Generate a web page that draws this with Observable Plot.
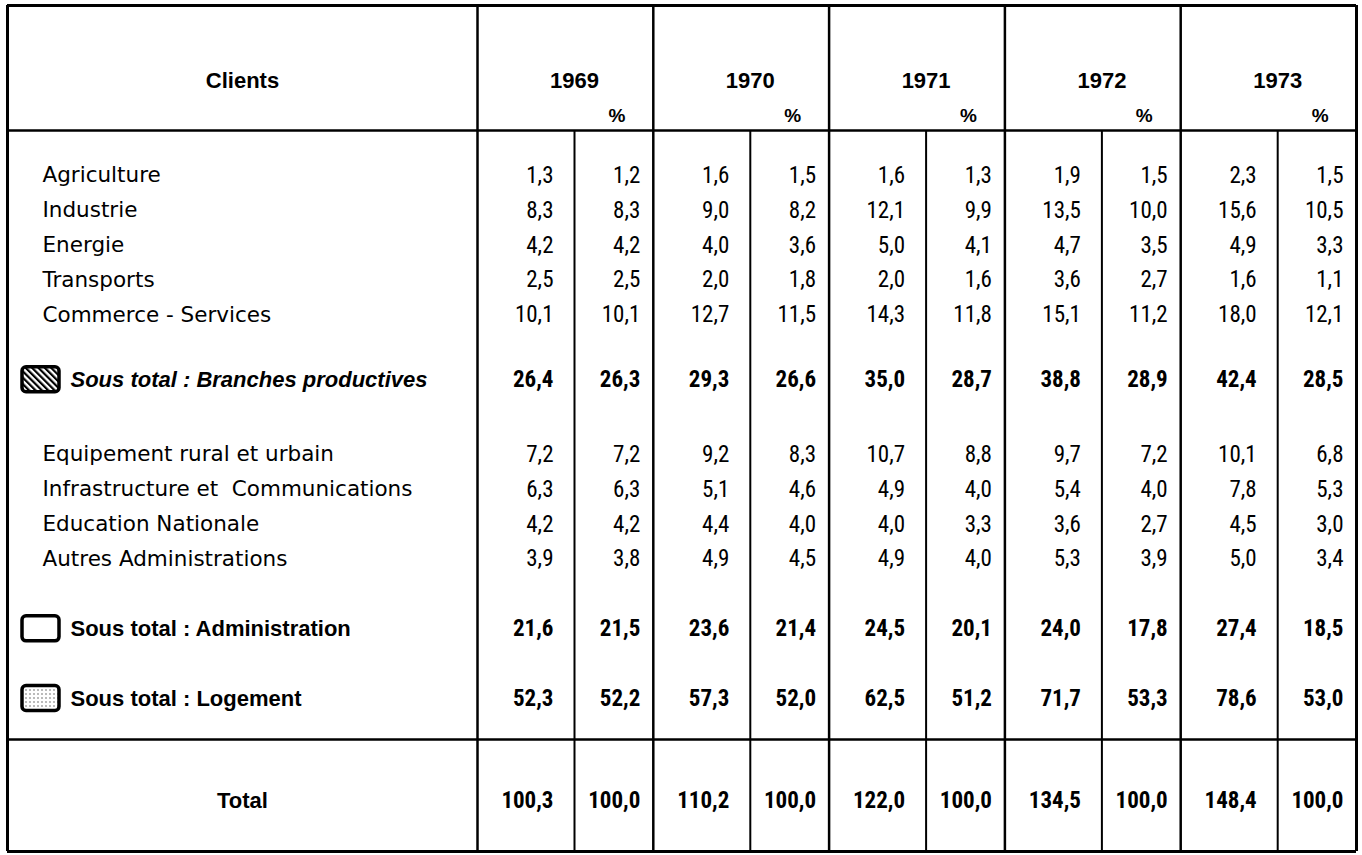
<!DOCTYPE html>
<html>
<head>
<meta charset="utf-8">
<script src="https://cdn.jsdelivr.net/npm/d3@7"></script>
<script src="https://cdn.jsdelivr.net/npm/@observablehq/plot@0.6"></script>
<style>
  html, body { margin: 0; padding: 0; background: #fff; }
  #chart svg { display: block; }
</style>
</head>
<body>
<div id="chart"></div>
<script>
// ---------- DATA ----------
const years = ["1969", "1970", "1971", "1972", "1973"];
const clients = [
  "Agriculture",
  "Industrie",
  "Energie",
  "Transports",
  "Commerce - Services",
  "Sous total : Branches productives",
  "Equipement rural et urbain",
  "Infrastructure et  Communications",
  "Education Nationale",
  "Autres Administrations",
  "Sous total : Administration",
  "Sous total : Logement"
];
const rowKind = ["item", "item", "item", "item", "item", "subtotal",
                 "item", "item", "item", "item", "subtotal", "subtotal"];
const rowSwatch = [null, null, null, null, null, "hatch",
                   null, null, null, null, "plain", "dots"];

const values1969 = [1.3, 8.3, 4.2, 2.5, 10.1, 26.4, 7.2, 6.3, 4.2, 3.9, 21.6, 52.3];
const pct1969    = [1.2, 8.3, 4.2, 2.5, 10.1, 26.3, 7.2, 6.3, 4.2, 3.8, 21.5, 52.2];
const values1970 = [1.6, 9.0, 4.0, 2.0, 12.7, 29.3, 9.2, 5.1, 4.4, 4.9, 23.6, 57.3];
const pct1970    = [1.5, 8.2, 3.6, 1.8, 11.5, 26.6, 8.3, 4.6, 4.0, 4.5, 21.4, 52.0];
const values1971 = [1.6, 12.1, 5.0, 2.0, 14.3, 35.0, 10.7, 4.9, 4.0, 4.9, 24.5, 62.5];
const pct1971    = [1.3, 9.9, 4.1, 1.6, 11.8, 28.7, 8.8, 4.0, 3.3, 4.0, 20.1, 51.2];
const values1972 = [1.9, 13.5, 4.7, 3.6, 15.1, 38.8, 9.7, 5.4, 3.6, 5.3, 24.0, 71.7];
const pct1972    = [1.5, 10.0, 3.5, 2.7, 11.2, 28.9, 7.2, 4.0, 2.7, 3.9, 17.8, 53.3];
const values1973 = [2.3, 15.6, 4.9, 1.6, 18.0, 42.4, 10.1, 7.8, 4.5, 5.0, 27.4, 78.6];
const pct1973    = [1.5, 10.5, 3.3, 1.1, 12.1, 28.5, 6.8, 5.3, 3.0, 3.4, 18.5, 53.0];

const totalValues = [100.3, 110.2, 122.0, 134.5, 148.4];
const totalPct    = [100.0, 100.0, 100.0, 100.0, 100.0];

const headerClients = "Clients";
const headerPct = "%";
const totalLabel = "Total";

// ---------- LAYOUT ----------
const W = 1362, H = 855;
const edgeLeft = 7, edgeTop = 5, edgeRight = 1356, edgeBottom = 851;
const labelRight = 477;
const groupW = (edgeRight - labelRight) / years.length;
const subOffset = 97;
const headerBottom = 130;
const totalTop = 739;
const yearY = 80, pctHeaderY = 115, totalY = 800;
const rowY0 = 175, pitch = 34.87;

const valuesByYear = [values1969, values1970, values1971, values1972, values1973];
const pctByYear = [pct1969, pct1970, pct1971, pct1972, pct1973];

const groupLeft = j => labelRight + j * groupW;
const subX = j => groupLeft(j) + subOffset;
const valRight = j => subX(j) - 21;
const pctRight = j => groupLeft(j) + groupW - 13;
const labelCenter = (edgeLeft + labelRight) / 2;

// row slots: a blank slot before each subtotal and between a subtotal and the next block
const slots = [];
clients.forEach((c, i) => {
  if (i === 0) slots.push(0);
  else if (rowKind[i] === "subtotal" || rowKind[i - 1] === "subtotal") slots.push(slots[i - 1] + 2);
  else slots.push(slots[i - 1] + 1);
});
const rowY = i => rowY0 + slots[i] * pitch - (i === 5 ? 5 : 0);

const fmt = v => d3.format(".1f")(v).replace(".", ",");

// ---------- TABLE RECORDS ----------
const cells = years.flatMap((yr, j) => clients.flatMap((c, i) => [
  {x: valRight(j), y: rowY(i), text: fmt(valuesByYear[j][i]), kind: rowKind[i]},
  {x: pctRight(j), y: rowY(i), text: fmt(pctByYear[j][i]), kind: rowKind[i]}
]));
const totalCells = years.flatMap((yr, j) => [
  {x: valRight(j), y: totalY, text: fmt(totalValues[j])},
  {x: pctRight(j), y: totalY, text: fmt(totalPct[j])}
]);
const labels = clients.map((c, i) => ({
  x: rowSwatch[i] ? 70 : 42, y: rowY(i), text: c, kind: rowKind[i], swatch: rowSwatch[i]
}));
const yearHeads = years.map((yr, j) => ({x: subX(j), y: yearY, text: yr}));
const pctHeads = years.map((yr, j) => ({x: (subX(j) + groupLeft(j) + groupW) / 2 + 3, y: pctHeaderY, text: headerPct}));
const swatches = labels.filter(d => d.swatch).map(d => ({
  x1: 22, x2: 59, y1: d.y - 12.5, y2: d.y + 12.5, swatch: d.swatch
}));

const groupEdges = d3.range(years.length + 1).map(groupLeft);
const subEdges = years.map((yr, j) => subX(j));

const numFont = "'Liberation Sans Narrow', 'Roboto Condensed', 'DejaVu Sans Condensed', Roboto, sans-serif";
const labelFont = "'DejaVu Sans', sans-serif";
const boldFont = "'Liberation Sans', Arial, sans-serif";

const chart = Plot.plot({
  width: W,
  height: H,
  margin: 0,
  x: {type: "linear", domain: [0, W], range: [0, W], axis: null},
  y: {type: "linear", domain: [0, H], range: [0, H], axis: null},
  marks: [
    // horizontal lines
    Plot.ruleY([edgeTop, edgeBottom], {x1: edgeLeft, x2: edgeRight, stroke: "black", strokeWidth: 3}),
    Plot.ruleY([headerBottom, totalTop], {x1: edgeLeft, x2: edgeRight, stroke: "black", strokeWidth: 2.5}),
    // vertical lines
    Plot.ruleX([edgeLeft, edgeRight], {y1: edgeTop, y2: edgeBottom, stroke: "black", strokeWidth: 3}),
    Plot.ruleX(groupEdges.slice(0, -1), {y1: edgeTop, y2: edgeBottom, stroke: "black", strokeWidth: 2.5}),
    Plot.ruleX(subEdges, {y1: headerBottom, y2: edgeBottom, stroke: "black", strokeWidth: 2}),
    // header
    Plot.text([{x: labelCenter, y: yearY, text: headerClients}], {x: "x", y: "y", text: "text",
      fontFamily: boldFont, fontWeight: "bold", fontSize: 22, fill: "black", textAnchor: "middle"}),
    Plot.text(yearHeads, {x: "x", y: "y", text: "text",
      fontFamily: boldFont, fontWeight: "bold", fontSize: 22, fill: "black", textAnchor: "middle"}),
    Plot.text(pctHeads, {x: "x", y: "y", text: "text",
      fontFamily: boldFont, fontWeight: "bold", fontSize: 19, fill: "black", textAnchor: "middle"}),
    // row labels
    Plot.text(labels.filter(d => d.kind === "item"), {x: "x", y: "y", text: "text",
      fontFamily: labelFont, fontSize: 21.5, fill: "black", textAnchor: "start"}),
    Plot.text(labels.filter(d => d.kind === "subtotal" && d.swatch === "hatch"), {x: "x", y: "y", text: "text",
      fontFamily: boldFont, fontWeight: "bold", fontStyle: "italic", fontSize: 22, fill: "black", textAnchor: "start"}),
    Plot.text(labels.filter(d => d.kind === "subtotal" && d.swatch !== "hatch"), {x: "x", y: "y", text: "text",
      fontFamily: boldFont, fontWeight: "bold", fontSize: 22, fill: "black", textAnchor: "start"}),
    // numbers
    Plot.text(cells.filter(d => d.kind === "item"), {x: "x", y: "y", text: "text",
      fontFamily: numFont, fontSize: 23, fill: "black", textAnchor: "end"}),
    Plot.text(cells.filter(d => d.kind === "subtotal"), {x: "x", y: "y", text: "text",
      fontFamily: numFont, fontWeight: "bold", fontSize: 23, fill: "black", textAnchor: "end"}),
    // total row
    Plot.text([{x: labelCenter, y: totalY, text: totalLabel}], {x: "x", y: "y", text: "text",
      fontFamily: boldFont, fontWeight: "bold", fontSize: 22, fill: "black", textAnchor: "middle"}),
    Plot.text(totalCells, {x: "x", y: "y", text: "text",
      fontFamily: numFont, fontWeight: "bold", fontSize: 23, fill: "black", textAnchor: "end"}),
    // swatches
    Plot.rect(swatches.filter(d => d.swatch === "hatch"), {x1: "x1", x2: "x2", y1: "y1", y2: "y2",
      fill: "url(#hatch)", stroke: "black", strokeWidth: 3.5, rx: 4}),
    Plot.rect(swatches.filter(d => d.swatch === "plain"), {x1: "x1", x2: "x2", y1: "y1", y2: "y2",
      fill: "white", stroke: "black", strokeWidth: 3.5, rx: 4}),
    Plot.rect(swatches.filter(d => d.swatch === "dots"), {x1: "x1", x2: "x2", y1: "y1", y2: "y2",
      fill: "url(#dots)", stroke: "black", strokeWidth: 3.5, rx: 4})
  ]
});

const defs = d3.select(chart).insert("defs", ":first-child");
const hatch = defs.append("pattern").attr("id", "hatch")
  .attr("patternUnits", "userSpaceOnUse").attr("width", 4.5).attr("height", 4.5)
  .attr("patternTransform", "rotate(-45)");
hatch.append("rect").attr("width", 4.5).attr("height", 4.5).attr("fill", "white");
hatch.append("rect").attr("width", 2.2).attr("height", 4.5).attr("fill", "black");
const dots = defs.append("pattern").attr("id", "dots")
  .attr("patternUnits", "userSpaceOnUse").attr("width", 4).attr("height", 4);
dots.append("rect").attr("width", 4).attr("height", 4).attr("fill", "white");
dots.append("circle").attr("cx", 2).attr("cy", 2).attr("r", 0.7).attr("fill", "#444");

document.getElementById("chart").appendChild(chart);
</script>
</body>
</html>
